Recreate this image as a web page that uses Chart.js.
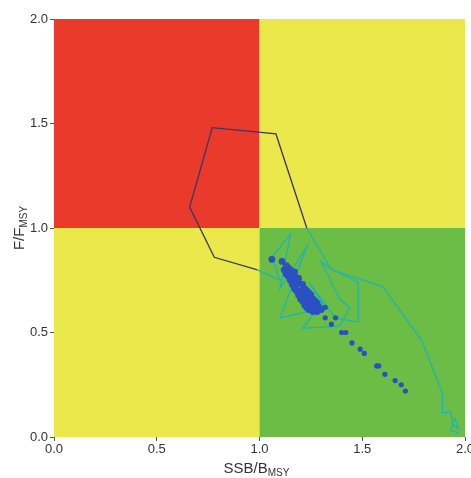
<!DOCTYPE html>
<html>
<head>
<meta charset="utf-8">
<script src="https://cdn.jsdelivr.net/npm/chart.js@4"></script>
<style>
  html, body { margin: 0; padding: 0; background: #fff; }
  #wrap { width: 471px; height: 478px; }
</style>
</head>
<body>
<div id="wrap"><canvas id="kobe"></canvas></div>
<script>
// ── Data ────────────────────────────────────────────────────────
const tickValues = [0.0, 0.5, 1.0, 1.5, 2.0];

// trajectory SSB/Bmsy and F/Fmsy, in year order
const pathSSB = [1.97, 1.93, 1.95, 1.97, 1.94, 1.93, 1.89, 1.89, 1.79, 1.60, 1.35, 1.23, 1.08, 0.77, 0.66, 0.78, 0.99,
                 1.10, 1.06, 1.15, 1.10, 1.23, 1.10, 1.28, 1.21, 1.39, 1.44, 1.39, 1.30, 1.34, 1.48, 1.48, 1.37, 1.24, 1.32, 1.26];
const pathF   = [0.02, 0.03, 0.09, 0.04, 0.06, 0.12, 0.115, 0.21, 0.46, 0.72, 0.80, 1.00, 1.45, 1.48, 1.10, 0.86, 0.80,
                 0.75, 0.86, 0.97, 0.71, 0.91, 0.57, 0.61, 0.52, 0.53, 0.62, 0.66, 0.84, 0.81, 0.74, 0.55, 0.57, 0.74, 0.62, 0.68];

// scatter of model estimates: dense cloud
const blobSSB = [1.06, 1.11, 1.12, 1.13, 1.14, 1.15, 1.16, 1.17, 1.18, 1.19, 1.20, 1.21, 1.22, 1.23, 1.24, 1.26,
                 1.14, 1.15, 1.17, 1.18, 1.19, 1.21, 1.22, 1.23, 1.24, 1.25, 1.26, 1.27, 1.28, 1.29, 1.30,
                 1.16, 1.18, 1.20, 1.22, 1.24, 1.26, 1.27, 1.13, 1.15, 1.17, 1.19, 1.21, 1.23, 1.25, 1.28];
const blobF   = [0.85, 0.84, 0.80, 0.78, 0.77, 0.75, 0.73, 0.71, 0.70, 0.68, 0.66, 0.65, 0.63, 0.62, 0.61, 0.60,
                 0.81, 0.79, 0.77, 0.76, 0.74, 0.73, 0.71, 0.70, 0.69, 0.68, 0.66, 0.65, 0.64, 0.62, 0.61,
                 0.75, 0.73, 0.70, 0.68, 0.65, 0.63, 0.61, 0.82, 0.80, 0.79, 0.76, 0.70, 0.66, 0.64, 0.60];
// scatter of model estimates: tail towards high biomass
const tailSSB = [1.32, 1.32, 1.37, 1.35, 1.40, 1.42, 1.45, 1.49, 1.51, 1.57, 1.58, 1.61, 1.66, 1.69, 1.71];
const tailF   = [0.62, 0.57, 0.57, 0.54, 0.50, 0.50, 0.45, 0.42, 0.40, 0.34, 0.34, 0.30, 0.27, 0.25, 0.22];

const pathPts = pathSSB.map((x, i) => ({ x, y: pathF[i] }));
const blobPts = blobSSB.map((x, i) => ({ x, y: blobF[i] }));
const tailPts = tailSSB.map((x, i) => ({ x, y: tailF[i] }));

// ── Kobe quadrants, drawn behind the datasets ───────────────────
const quadrants = {
  id: 'quadrants',
  beforeDatasetsDraw(chart) {
    const { ctx, scales: { x, y } } = chart;
    const x0 = x.getPixelForValue(0), x1 = x.getPixelForValue(1), x2 = x.getPixelForValue(2);
    const y0 = y.getPixelForValue(0), y1 = y.getPixelForValue(1), y2 = y.getPixelForValue(2);
    ctx.save();
    ctx.fillStyle = '#ea3a2b'; ctx.fillRect(x0, y2, x1 - x0, y1 - y2);
    ctx.fillStyle = '#ebe84b'; ctx.fillRect(x1, y2, x2 - x1, y1 - y2);
    ctx.fillRect(x0, y1, x1 - x0, y0 - y1);
    ctx.fillStyle = '#6bbd45'; ctx.fillRect(x1, y1, x2 - x1, y0 - y1);
    ctx.restore();
  }
};

// ── Axis titles with subscripts ─────────────────────────────────
function subText(ctx, parts, cx, cy) {
  const big = '15px "Liberation Sans", Arial, sans-serif';
  const small = '10px "Liberation Sans", Arial, sans-serif';
  let w = 0;
  parts.forEach(p => { ctx.font = p.sub ? small : big; w += ctx.measureText(p.t).width; });
  let px = cx - w / 2;
  parts.forEach(p => {
    ctx.font = p.sub ? small : big;
    ctx.fillText(p.t, px, p.sub ? cy + 4 : cy);
    px += ctx.measureText(p.t).width;
  });
}

const axisTitles = {
  id: 'axisTitles',
  afterDraw(chart) {
    const { ctx, chartArea: a } = chart;
    ctx.save();
    ctx.fillStyle = '#333';
    ctx.textBaseline = 'middle';
    ctx.textAlign = 'left';
    subText(ctx, [{ t: 'SSB/B' }, { t: 'MSY', sub: true }], (a.left + a.right) / 2 - 3, 469);
    ctx.translate(20, (a.top + a.bottom) / 2);
    ctx.rotate(-Math.PI / 2);
    subText(ctx, [{ t: 'F/F' }, { t: 'MSY', sub: true }], 0, 0);
    ctx.restore();
  }
};

const tickFont = { family: '"Liberation Sans", Arial, sans-serif', size: 13 };
const dark = '#3a3766', teal = '#1fb3b5';

new Chart(document.getElementById('kobe'), {
  type: 'scatter',
  data: {
    datasets: [
      {
        type: 'line',
        data: pathPts,
        showLine: true,
        borderWidth: 1.3,
        pointRadius: 0,
        tension: 0,
        borderColor: teal,
        segment: {
          borderColor: c => {
            const my = (c.p0.parsed.y + c.p1.parsed.y) / 2;
            const mx = (c.p0.parsed.x + c.p1.parsed.x) / 2;
            return (my > 0.95 || mx < 0.95) ? dark : teal;
          }
        },
        order: 3
      },
      {
        data: blobPts,
        pointRadius: 3.4,
        pointBackgroundColor: '#2b50c2',
        pointBorderWidth: 0,
        order: 2
      },
      {
        data: tailPts,
        pointRadius: 2.6,
        pointBackgroundColor: '#2b50c2',
        pointBorderWidth: 0,
        order: 1
      }
    ]
  },
  options: {
    responsive: true,
    maintainAspectRatio: false,
    animation: false,
    layout: { padding: { top: 19, right: 6, left: 0, bottom: 0 } },
    plugins: { legend: { display: false }, tooltip: { enabled: false } },
    scales: {
      x: {
        type: 'linear',
        min: 0, max: 2,
        afterBuildTicks: s => { s.ticks = tickValues.map(v => ({ value: v })); },
        afterFit: s => { s.height = 41; s.paddingLeft = 0; s.paddingRight = 0; },
        grid: { drawOnChartArea: false, drawTicks: true, tickLength: 4, color: '#555' },
        border: { display: false },
        ticks: { color: '#333', font: tickFont, padding: 1, maxRotation: 0, callback: v => v.toFixed(1) }
      },
      y: {
        type: 'linear',
        min: 0, max: 2,
        afterBuildTicks: s => { s.ticks = tickValues.map(v => ({ value: v })); },
        afterFit: s => { s.width = 54; },
        grid: { drawOnChartArea: false, drawTicks: true, tickLength: 4, color: '#555' },
        border: { display: false },
        ticks: { color: '#333', font: tickFont, padding: 2, callback: v => v.toFixed(1) }
      }
    }
  },
  plugins: [quadrants, axisTitles]
});
</script>
</body>
</html>
